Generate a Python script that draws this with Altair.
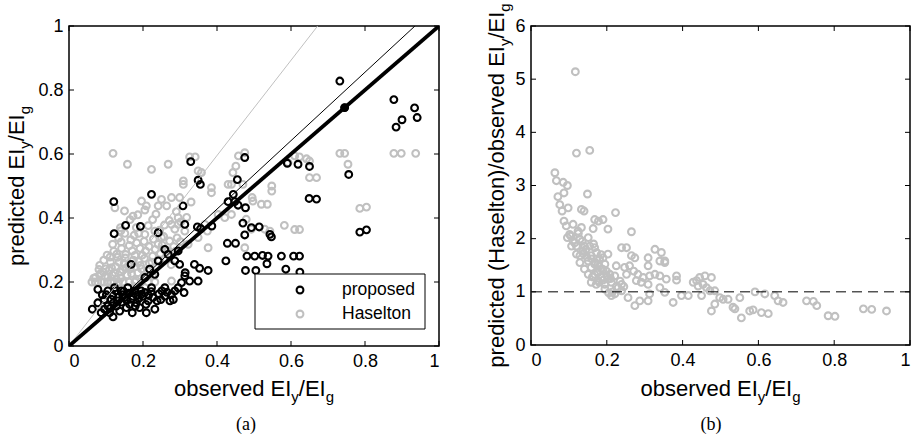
import altair as alt
import pandas as pd

# ---------------- data ----------------
# panel (a): proposed model (black circles)
prop_x = [0.732, 0.745, 0.878, 0.884, 0.900, 0.934, 0.941, 0.756, 0.786, 0.804,
          0.669, 0.649, 0.650, 0.619, 0.590, 0.623, 0.607, 0.574, 0.538, 0.523,
          0.502, 0.481, 0.470, 0.493, 0.514, 0.475, 0.547, 0.543, 0.477, 0.505,
          0.535, 0.586, 0.624, 0.428, 0.450, 0.424, 0.477, 0.475, 0.329, 0.444,
          0.430, 0.455, 0.457, 0.448, 0.349, 0.355, 0.386, 0.347, 0.356, 0.308,
          0.313, 0.376, 0.349, 0.326, 0.339, 0.353, 0.314, 0.311, 0.286, 0.273,
          0.251, 0.238, 0.214, 0.209, 0.191, 0.171, 0.119, 0.223, 0.193, 0.153,
          0.121, 0.122, 0.241, 0.259, 0.295, 0.268, 0.241, 0.078, 0.063, 0.078,
          0.087, 0.105, 0.123, 0.141, 0.159, 0.177, 0.195, 0.205, 0.114, 0.132,
          0.150, 0.168, 0.105, 0.128, 0.137, 0.164, 0.182, 0.227, 0.232, 0.259,
          0.277, 0.295, 0.304, 0.313, 0.299, 0.259, 0.223, 0.110, 0.096, 0.232,
          0.218, 0.286, 0.205, 0.168, 0.090, 0.145, 0.185, 0.120, 0.155, 0.248,
          0.199,
          0.095, 0.101, 0.112, 0.118, 0.126, 0.133, 0.142, 0.148, 0.156, 0.162,
          0.173, 0.179, 0.188, 0.196, 0.208, 0.215, 0.222, 0.243, 0.265, 0.282]
prop_y = [0.828, 0.745, 0.770, 0.684, 0.707, 0.744, 0.714, 0.536, 0.356, 0.363,
          0.459, 0.461, 0.561, 0.568, 0.571, 0.281, 0.281, 0.281, 0.281, 0.283,
          0.281, 0.281, 0.384, 0.370, 0.372, 0.347, 0.341, 0.349, 0.236, 0.236,
          0.257, 0.240, 0.231, 0.321, 0.321, 0.266, 0.432, 0.589, 0.576, 0.474,
          0.451, 0.520, 0.440, 0.451, 0.518, 0.505, 0.375, 0.372, 0.367, 0.438,
          0.380, 0.236, 0.203, 0.203, 0.255, 0.243, 0.229, 0.167, 0.172, 0.141,
          0.172, 0.141, 0.141, 0.104, 0.120, 0.104, 0.091, 0.474, 0.374, 0.377,
          0.451, 0.351, 0.354, 0.302, 0.297, 0.286, 0.266, 0.177, 0.115, 0.135,
          0.104, 0.172, 0.182, 0.172, 0.182, 0.172, 0.172, 0.167, 0.146, 0.141,
          0.151, 0.146, 0.125, 0.125, 0.109, 0.130, 0.135, 0.151, 0.115, 0.156,
          0.161, 0.182, 0.198, 0.219, 0.255, 0.182, 0.182, 0.104, 0.115, 0.224,
          0.240, 0.266, 0.214, 0.255, 0.160, 0.160, 0.160, 0.135, 0.120, 0.145,
          0.155,
          0.145, 0.160, 0.118, 0.158, 0.172, 0.152, 0.137, 0.171, 0.143, 0.165,
          0.155, 0.125, 0.148, 0.162, 0.130, 0.158, 0.170, 0.163, 0.168, 0.145]

# panel (a): Haselton model (gray circles)
has_x = [0.119, 0.158, 0.223, 0.268, 0.326, 0.341, 0.349, 0.358, 0.309, 0.309,
         0.385, 0.385, 0.458, 0.475, 0.451, 0.443, 0.430, 0.439, 0.470, 0.495,
         0.497, 0.520, 0.536, 0.548, 0.548, 0.592, 0.610, 0.623, 0.642, 0.650,
         0.650, 0.669, 0.732, 0.745, 0.754, 0.786, 0.804, 0.878, 0.898, 0.937,
         0.610, 0.623, 0.582, 0.529, 0.543, 0.493, 0.475, 0.479, 0.421, 0.439,
         0.403, 0.376, 0.374, 0.349, 0.367, 0.299, 0.277, 0.250, 0.264, 0.241,
         0.196, 0.209, 0.150, 0.173, 0.124, 0.139, 0.182, 0.205, 0.232, 0.277,
         0.295, 0.295, 0.313, 0.322, 0.277, 0.268, 0.250,
         0.062, 0.071, 0.078, 0.088, 0.095, 0.104, 0.113, 0.121, 0.134, 0.146,
         0.163, 0.178, 0.196, 0.214, 0.232,
         0.072, 0.085, 0.097, 0.108, 0.117, 0.126, 0.138, 0.149, 0.157, 0.166,
         0.174, 0.186, 0.193, 0.204, 0.212, 0.224, 0.236, 0.247, 0.262, 0.276,
         0.288, 0.083, 0.094, 0.103, 0.112, 0.121, 0.131, 0.142, 0.153, 0.163,
         0.171, 0.183, 0.192, 0.203, 0.216, 0.228, 0.241, 0.256, 0.118, 0.134,
         0.151, 0.176, 0.198, 0.155, 0.140, 0.181, 0.209, 0.227, 0.099, 0.128,
         0.105, 0.115, 0.125, 0.135, 0.145, 0.152, 0.161, 0.169, 0.178, 0.188,
         0.196, 0.207, 0.217, 0.226, 0.233, 0.244, 0.252, 0.265, 0.272, 0.283,
         0.292, 0.301, 0.245, 0.258, 0.271, 0.286, 0.302, 0.318, 0.226, 0.214,
         0.188, 0.167, 0.141, 0.129, 0.111, 0.093, 0.081, 0.067, 0.186, 0.205,
         0.165, 0.140, 0.235, 0.290, 0.330]
has_y = [0.602, 0.568, 0.552, 0.568, 0.591, 0.591, 0.547, 0.542, 0.516, 0.505,
         0.495, 0.479, 0.594, 0.604, 0.562, 0.542, 0.505, 0.505, 0.505, 0.464,
         0.453, 0.443, 0.443, 0.500, 0.484, 0.573, 0.594, 0.591, 0.585, 0.578,
         0.526, 0.526, 0.602, 0.602, 0.568, 0.430, 0.434, 0.602, 0.602, 0.602,
         0.364, 0.364, 0.377, 0.365, 0.359, 0.365, 0.307, 0.396, 0.401, 0.411,
         0.411, 0.307, 0.359, 0.339, 0.380, 0.464, 0.464, 0.458, 0.438, 0.438,
         0.453, 0.438, 0.422, 0.406, 0.432, 0.370, 0.370, 0.349, 0.359, 0.380,
         0.380, 0.401, 0.359, 0.318, 0.203, 0.297, 0.339,
         0.200, 0.200, 0.200, 0.200, 0.200, 0.200, 0.200, 0.200, 0.200, 0.200,
         0.200, 0.200, 0.200, 0.200, 0.200,
         0.214, 0.226, 0.218, 0.237, 0.222, 0.248, 0.231, 0.259, 0.222, 0.241,
         0.268, 0.229, 0.252, 0.274, 0.236, 0.262, 0.247, 0.289, 0.271, 0.254,
         0.296, 0.252, 0.268, 0.284, 0.262, 0.296, 0.277, 0.305, 0.286, 0.314,
         0.297, 0.322, 0.305, 0.327, 0.311, 0.334, 0.318, 0.342, 0.318, 0.337,
         0.352, 0.346, 0.284, 0.245, 0.212, 0.205, 0.215, 0.219, 0.241, 0.209,
         0.215, 0.245, 0.228, 0.262, 0.238, 0.275, 0.251, 0.226, 0.283, 0.264,
         0.241, 0.297, 0.258, 0.281, 0.302, 0.268, 0.315, 0.296, 0.328, 0.311,
         0.338, 0.326, 0.362, 0.378, 0.392, 0.365, 0.388, 0.402, 0.395, 0.376,
         0.352, 0.332, 0.325, 0.287, 0.278, 0.231, 0.239, 0.212, 0.410, 0.425,
         0.395, 0.360, 0.412, 0.420, 0.450]

# reference lines in panel (a)
thick_x = [0.0, 1.0]
thick_y = [0.0, 1.0]
thin_x = [0.0, 0.935]
thin_y = [0.0, 1.0]
gray_line_x = [0.0, 0.672]
gray_line_y = [0.0, 1.0]
dot_x = [0.745]
dot_y = [0.745]

# panel (b): Haselton predicted / observed
ratio_x = [0.117, 0.120, 0.155, 0.063, 0.067, 0.085, 0.096, 0.071, 0.087, 0.149,
           0.076, 0.082, 0.098, 0.133, 0.140, 0.223, 0.168, 0.190, 0.178, 0.203,
           0.164, 0.265, 0.087, 0.093, 0.111, 0.102, 0.124, 0.133, 0.096, 0.111,
           0.107, 0.120, 0.129, 0.137, 0.129, 0.120, 0.151, 0.141, 0.155, 0.168,
           0.173, 0.181, 0.159, 0.151, 0.129, 0.177, 0.190, 0.203, 0.195, 0.199,
           0.151, 0.168, 0.177, 0.195, 0.212, 0.221, 0.225, 0.208, 0.239, 0.252,
           0.265, 0.274, 0.247, 0.260, 0.252, 0.271, 0.282, 0.296, 0.278, 0.291,
           0.239, 0.230, 0.221, 0.212, 0.239, 0.256, 0.274, 0.287, 0.309, 0.313,
           0.309, 0.313, 0.309, 0.309, 0.327, 0.344, 0.353, 0.353, 0.340, 0.327,
           0.340, 0.357, 0.340, 0.353, 0.375, 0.384, 0.384, 0.397, 0.415, 0.428,
           0.437, 0.445, 0.459, 0.476, 0.441, 0.454, 0.463, 0.472, 0.485, 0.450,
           0.476, 0.485, 0.498, 0.507, 0.520, 0.533, 0.538, 0.551, 0.555, 0.577,
           0.586, 0.591, 0.608, 0.626, 0.617, 0.643, 0.652, 0.665, 0.727, 0.745,
           0.754, 0.784, 0.802, 0.877, 0.899, 0.938,
           0.159, 0.168, 0.186, 0.141, 0.177, 0.186, 0.203, 0.159, 0.172,
           0.105, 0.115, 0.125, 0.135, 0.145, 0.160, 0.170, 0.180, 0.190, 0.200,
           0.210, 0.185, 0.165, 0.175, 0.195, 0.205, 0.215, 0.225, 0.235, 0.245,
           0.148, 0.138, 0.162, 0.180, 0.190]
ratio_y = [5.14, 3.61, 3.66, 3.24, 3.09, 3.06, 3.00, 2.79, 2.86, 2.84,
           2.64, 2.52, 2.58, 2.55, 2.52, 2.49, 2.36, 2.36, 2.33, 2.18,
           2.19, 2.13, 2.33, 2.24, 2.27, 2.08, 2.14, 2.21, 2.02, 1.96,
           1.86, 1.86, 1.99, 1.77, 1.68, 1.71, 2.02, 1.86, 1.86, 1.83,
           1.74, 1.61, 1.68, 1.58, 1.55, 1.52, 1.64, 1.71, 1.52, 1.39,
           1.33, 1.33, 1.21, 1.14, 1.18, 1.30, 1.49, 1.33, 1.83, 1.83,
           1.68, 1.64, 1.46, 1.49, 1.33, 1.39, 1.33, 1.27, 1.21, 1.18,
           1.14, 1.08, 0.96, 0.93, 1.02, 0.89, 0.74, 0.83, 0.83, 0.96,
           1.14, 1.30, 1.49, 1.64, 1.80, 1.74, 1.58, 1.55, 1.58, 1.33,
           1.30, 1.24, 1.08, 0.99, 0.80, 1.30, 1.22, 0.93, 0.93, 1.18,
           1.21, 1.27, 1.30, 1.27, 1.11, 1.14, 1.08, 1.02, 1.02, 0.93,
           0.64, 0.77, 0.89, 0.86, 0.86, 0.71, 0.68, 0.89, 0.51, 0.64,
           0.66, 1.00, 0.61, 0.59, 0.96, 0.93, 0.83, 0.80, 0.83, 0.82,
           0.74, 0.55, 0.54, 0.68, 0.67, 0.64,
           1.46, 1.52, 1.43, 1.43, 1.36, 1.27, 1.24, 1.18, 1.14,
           2.05, 1.92, 2.10, 1.95, 1.80, 1.62, 1.55, 1.48, 1.42, 1.30,
           1.25, 1.70, 1.90, 1.38, 1.05, 0.98, 1.00, 1.10, 1.20, 1.10,
           1.65, 1.72, 1.28, 1.18, 1.22]
ratio_ref = [1.0]

ticks_a = [0, 0.2, 0.4, 0.6, 0.8, 1.0]
ticks_b_y = [0, 1, 2, 3, 4, 5, 6]
legend_labels = ["proposed", "Haselton"]

# ---------------- style ----------------
BLACK = "#000000"
GRAY = "#c0c0c0"
SANS = "Liberation Sans"
SERIF = "Liberation Serif"
TICK_FS = 18
TITLE_FS = 22
SUB_FS = 15
SUB_DY = 6
PT_SIZE = 46
PT_SW = 2.1

WA, HA = 370, 320
WB, HB = 379, 319

AW = {' ': 278, '(': 333, ')': 333, '/': 278, 'a': 556, 'b': 556, 'c': 500, 'd': 556,
      'e': 556, 'g': 556, 'i': 222, 'l': 222, 'n': 556, 'o': 556, 'p': 556, 'r': 333,
      's': 500, 't': 278, 'v': 500, 'y': 500, 'E': 667, 'H': 722, 'I': 278}


def tw(s, size):
    return sum(AW.get(c, 556) for c in s) / 1000.0 * size


one = pd.DataFrame({"k": [0]})


def title_h(segs, cx, base):
    total = sum(tw(t, SUB_FS if sub else TITLE_FS) for t, sub in segs)
    x = cx - total / 2
    layers = []
    for t, sub in segs:
        fs = SUB_FS if sub else TITLE_FS
        layers.append(alt.Chart(one).mark_text(
            align="left", baseline="alphabetic", font=SANS, fontSize=fs,
            color=BLACK, dy=SUB_DY if sub else 0).encode(
            x=alt.value(x), y=alt.value(base), text=alt.value(t)))
        x += tw(t, fs)
    return layers


def title_v(segs, cy, base):
    total = sum(tw(t, SUB_FS if sub else TITLE_FS) for t, sub in segs)
    y = cy + total / 2
    layers = []
    for t, sub in segs:
        fs = SUB_FS if sub else TITLE_FS
        layers.append(alt.Chart(one).mark_text(
            align="left", baseline="alphabetic", font=SANS, fontSize=fs,
            color=BLACK, angle=270, dy=SUB_DY if sub else 0).encode(
            x=alt.value(base), y=alt.value(y), text=alt.value(t)))
        y -= tw(t, fs)
    return layers


def tick_layers(xvals, yvals, xs, ys, w, h, tl=5):
    tx = pd.DataFrame({"v": xvals})
    ty = pd.DataFrame({"v": yvals})
    out = []
    for y0, y1 in [(h, h - tl), (0, tl)]:
        out.append(alt.Chart(tx).mark_rule(color=BLACK, strokeWidth=1).encode(
            x=alt.X("v:Q", scale=xs), y=alt.value(y0), y2=alt.value(y1)))
    for x0, x1 in [(0, tl), (w, w - tl)]:
        out.append(alt.Chart(ty).mark_rule(color=BLACK, strokeWidth=1).encode(
            y=alt.Y("v:Q", scale=ys), x=alt.value(x0), x2=alt.value(x1)))
    return out


axis_common = dict(labelFont=SANS, labelFontSize=TICK_FS, labelColor=BLACK,
                   domain=False, ticks=False, grid=False, labelPadding=6, title=None)

# ---------------- panel (a) ----------------
xs_a = alt.Scale(domain=[0, 1], nice=False, zero=False)
ys_a = alt.Scale(domain=[0, 1], nice=False, zero=False)
xa = alt.X("x:Q", scale=xs_a, axis=alt.Axis(values=ticks_a, format="~g", **axis_common))
ya = alt.Y("y:Q", scale=ys_a, axis=alt.Axis(values=ticks_a, format="~g", **axis_common))

df_has = pd.DataFrame({"x": has_x, "y": has_y})
df_prop = pd.DataFrame({"x": prop_x, "y": prop_y})

gray_pts = alt.Chart(df_has).mark_point(shape="circle", filled=False, size=PT_SIZE,
                                        strokeWidth=PT_SW, color=GRAY, opacity=1).encode(x=xa, y=ya)
black_pts = alt.Chart(df_prop).mark_point(shape="circle", filled=False, size=PT_SIZE,
                                          strokeWidth=PT_SW, color=BLACK, opacity=1).encode(
    x=alt.X("x:Q", scale=xs_a), y=alt.Y("y:Q", scale=ys_a))


def line(xv, yv, color, sw):
    return alt.Chart(pd.DataFrame({"x": xv, "y": yv})).mark_line(
        color=color, strokeWidth=sw, clip=True).encode(
        x=alt.X("x:Q", scale=xs_a), y=alt.Y("y:Q", scale=ys_a))


gray_line = line(gray_line_x, gray_line_y, GRAY, 1)
thin_line = line(thin_x, thin_y, BLACK, 1)
thick_line = line(thick_x, thick_y, BLACK, 3.8)
dot = alt.Chart(pd.DataFrame({"x": dot_x, "y": dot_y})).mark_point(
    shape="circle", filled=True, size=70, color=BLACK, opacity=1).encode(
    x=alt.X("x:Q", scale=xs_a), y=alt.Y("y:Q", scale=ys_a))

# legend (drawn in pixel space inside panel a)
leg_box = alt.Chart(one).mark_rect(fill="white", stroke=BLACK, strokeWidth=1).encode(
    x=alt.value(186), x2=alt.value(356), y=alt.value(248), y2=alt.value(303))
leg_items = []
for i, (lab, col) in enumerate(zip(legend_labels, [BLACK, GRAY])):
    yy = 264 + 24 * i
    leg_items.append(alt.Chart(one).mark_point(shape="circle", filled=False, size=PT_SIZE,
                                               strokeWidth=PT_SW, color=col, opacity=1).encode(
        x=alt.value(231), y=alt.value(yy)))
    leg_items.append(alt.Chart(one).mark_text(align="left", baseline="middle", font=SANS,
                                              fontSize=17.5, color=BLACK).encode(
        x=alt.value(273), y=alt.value(yy), text=alt.value(lab)))

obs_title = [("observed EI", False), ("y", True), ("/EI", False), ("g", True)]
pred_title = [("predicted EI", False), ("y", True), ("/EI", False), ("g", True)]
ratio_title = [("predicted (Haselton)/observed EI", False), ("y", True), ("/EI", False), ("g", True)]

lab_a = alt.Chart(one).mark_text(font=SERIF, fontSize=18, color=BLACK, baseline="alphabetic").encode(
    x=alt.value(177), y=alt.value(404), text=alt.value("(a)"))

panel_a = alt.layer(
    gray_pts, black_pts, gray_line, thin_line, thick_line, dot,
    *tick_layers(ticks_a, ticks_a, xs_a, ys_a, WA, HA),
    leg_box, *leg_items,
    *title_h(obs_title, WA / 2, 370),
    *title_v(pred_title, HA / 2, -45),
    lab_a,
).properties(width=WA, height=HA)

# ---------------- panel (b) ----------------
xs_b = alt.Scale(domain=[0, 1], nice=False, zero=False)
ys_b = alt.Scale(domain=[0, 6], nice=False, zero=False)
df_ratio = pd.DataFrame({"x": ratio_x, "y": ratio_y})

ratio_pts = alt.Chart(df_ratio).mark_point(shape="circle", filled=False, size=PT_SIZE,
                                           strokeWidth=PT_SW, color=GRAY, opacity=1).encode(
    x=alt.X("x:Q", scale=xs_b, axis=alt.Axis(values=ticks_a, format="~g", **axis_common)),
    y=alt.Y("y:Q", scale=ys_b, axis=alt.Axis(values=ticks_b_y, format="d", **axis_common)))
ref_rule = alt.Chart(pd.DataFrame({"y": ratio_ref})).mark_rule(
    color=BLACK, strokeWidth=1, strokeDash=[10, 6]).encode(y=alt.Y("y:Q", scale=ys_b))

lab_b = alt.Chart(one).mark_text(font=SERIF, fontSize=18, color=BLACK, baseline="alphabetic").encode(
    x=alt.value(180), y=alt.value(404), text=alt.value("(b)"))

panel_b = alt.layer(
    ratio_pts, ref_rule,
    *tick_layers(ticks_a, ticks_b_y, xs_b, ys_b, WB, HB),
    *title_h(obs_title, WB / 2, 370),
    *title_v(ratio_title, HB / 2, -27),
    lab_b,
).properties(width=WB, height=HB)

chart = alt.hconcat(panel_a, panel_b, spacing=92, bounds="flush").configure_view(
    stroke=BLACK, strokeWidth=1.5
).properties(
    padding={"left": 5, "top": 2, "right": 2, "bottom": 2},
    background="white",
)

chart.save("out.html", embed_options={"renderer": "svg", "actions": False})
